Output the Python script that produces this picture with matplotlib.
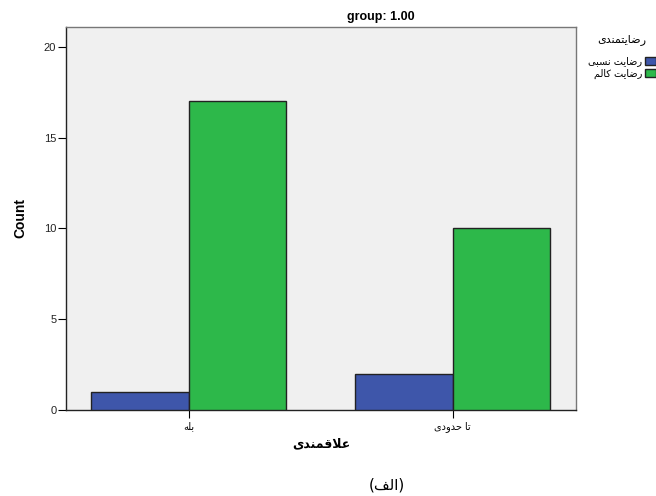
import matplotlib
matplotlib.use("Agg")
import matplotlib.pyplot as plt
import numpy as np

# Data (Arabic-script strings pre-shaped into presentation forms, visual order)
categories = ["\uFEEA\uFEE0\uFE91",                      # بله
              "\uFEEF\uFEA9\uFEED\uFEAA\uFEA3 \uFE8E\uFE97"]  # تا حدودی
series_names = ["\uFEF0\uFE92\uFEB4\uFEE7 \uFE96\uFEF3\uFE8E\uFEBF\uFEAD",   # رضایت نسبی
                "\uFEE2\uFEDF\uFE8E\uFEDB \uFE96\uFEF3\uFE8E\uFEBF\uFEAD"]   # رضایت کامل
values_partial = [1, 2]
values_full = [17, 10]
legend_title = "\uFEEF\uFEAA\uFEE8\uFEE4\uFE98\uFEF3\uFE8E\uFEBF\uFEAD"   # رضایتمندی
x_label = "\uFEEF\uFEAA\uFEE8\uFEE4\uFED7\uFEFC\uFECB"                     # علاقمندی
caption = "(\uFED2\uFEDF\uFE8D)"                                          # (الف)
title = "group: 1.00"
y_ticks = [0, 5, 10, 15, 20]

colors = ["#3E56AA", "#2DB84A"]

fig = plt.figure(figsize=(6.56, 4.96), dpi=100)
ax = fig.add_axes([66/656, 1-410/496, (576-66)/656, (410-27)/496])
ax.set_facecolor("#F0F0F0")

x = np.arange(len(categories))
w = 0.370
ax.bar(x - w/2, values_partial, width=w, color=colors[0], edgecolor="#222222",
       linewidth=1.0, label=series_names[0], zorder=3)
ax.bar(x + w/2, values_full, width=w, color=colors[1], edgecolor="#222222",
       linewidth=1.0, label=series_names[1], zorder=3)

ax.set_xlim(-0.4637, 1.4667)
ax.set_ylim(0, 21.1)
ax.set_yticks(y_ticks)
ax.set_xticks(x)
ax.set_xticklabels(categories, fontsize=7, family="DejaVu Sans")
ax.tick_params(axis="y", labelsize=8, length=6, width=0.8, pad=1, labelcolor="#222222")
ax.tick_params(axis="x", length=6, width=0.8, pad=2)
for lab in ax.get_yticklabels():
    lab.set_family("Liberation Sans")

for s in ["top", "right"]:
    ax.spines[s].set_color("#777777")
for s in ["left", "bottom"]:
    ax.spines[s].set_color("#222222")
for s in ax.spines.values():
    s.set_linewidth(1.0)

ax.set_ylabel("Count", fontsize=10, fontweight="bold", family="Liberation Sans", labelpad=12)
ax.set_xlabel(x_label, fontsize=9, fontweight="bold", family="DejaVu Sans", labelpad=4)

fig.text(381/656, 1-17/496, title, ha="center", va="center", fontsize=9,
         fontweight="bold", family="Liberation Sans")

leg = ax.legend(loc="upper right", bbox_to_anchor=(658/656, 1-32/496),
                bbox_transform=fig.transFigure, frameon=False, markerfirst=False,
                fontsize=7, title=legend_title, title_fontsize=8,
                handlelength=1.1, handleheight=0.9, handletextpad=0.3,
                labelspacing=0.25, borderaxespad=0, borderpad=0.2)
for t in leg.get_texts():
    t.set_family("DejaVu Sans")
leg.get_title().set_family("DejaVu Sans")
leg._legend_box.sep = 8
for h in leg.legend_handles:
    h.set_edgecolor("#222222")

fig.text(387/656, 1-485/496, caption, ha="center", va="center", fontsize=11,
         family="DejaVu Sans")

fig.savefig("out.png", dpi=100)
